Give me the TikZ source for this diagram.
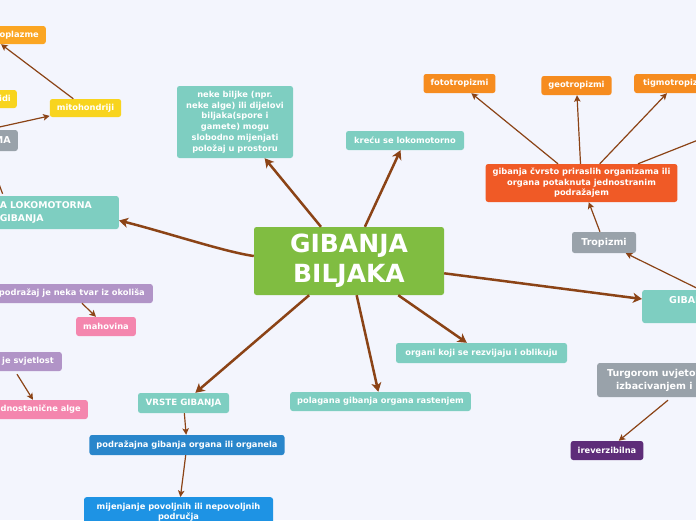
\documentclass[tikz,border=0pt]{standalone}
\usepackage{fontspec}
\setmainfont{DejaVu Sans}
\usetikzlibrary{arrows.meta,calc}
\definecolor{bgc}{HTML}{F3F5FD}
\definecolor{brn}{HTML}{8B4316}
\definecolor{tealc}{HTML}{7ECEC1}
\definecolor{greenc}{HTML}{80BD41}
\definecolor{orgA}{HTML}{FBA623}
\definecolor{orgB}{HTML}{F68C1F}
\definecolor{yelc}{HTML}{F8D41E}
\definecolor{gryc}{HTML}{99A2AA}
\definecolor{redc}{HTML}{F05A26}
\definecolor{blueA}{HTML}{2986CB}
\definecolor{blueB}{HTML}{1E93E4}
\definecolor{purc}{HTML}{B194C7}
\definecolor{pinkc}{HTML}{F486AE}
\definecolor{dpurc}{HTML}{5E2D79}
\tikzset{
  mm/.style={rounded corners=2.5pt, text=white, font=\bfseries\fontsize{8.3}{10.5}\selectfont,
    align=center, inner xsep=7pt, inner ysep=0pt, minimum height=19pt},
  bigf/.style={font=\bfseries\fontsize{9.5}{12}\selectfont},
  thickc/.style={draw=brn, line width=2.5pt, -{Stealth[length=9pt,width=10pt,inset=2.5pt]}},
  thinc/.style={draw=brn, line width=1.2pt, -{Stealth[length=6.5pt,width=6.5pt,inset=1.5pt]}},
  plainc/.style={draw=brn, line width=1.2pt},
}
\begin{document}
\begin{tikzpicture}[x=1pt,y=-1pt]
\useasboundingbox (0,0) rectangle (696,520);
\fill[bgc] (0,0) rectangle (696,520);
\begin{scope}
\clip (0,0) rectangle (696,520);
% nodes
\node[mm, fill=orgA, anchor=east, minimum height=18pt] (cito) at (46,35) {citoplazme};
\node[mm, fill=yelc, anchor=east, inner xsep=6pt, minimum height=18pt] (plast) at (17,99) {plastidi};
\node[mm, fill=yelc, minimum width=69pt, minimum height=18pt] (mito) at (85.5,108) {mitohondriji};
\node[mm, fill=gryc, anchor=east, bigf, minimum height=21pt] (ma) at (18,140.5) {MA};
\node[mm, fill=tealc, anchor=east, text width=111pt, align=left, inner xsep=8pt,
  font=\bfseries\fontsize{9.3}{13}\selectfont, minimum height=33pt] (lok) at (119,212.5) {A LOKOMOTORNA\\GIBANJA};
\node[mm, fill=greenc, minimum width=190pt, minimum height=68pt,
  font=\bfseries\fontsize{25}{30}\selectfont] (main) at (349,261) {GIBANJA\\BILJAKA};
\node[mm, fill=tealc, minimum width=116pt, minimum height=72pt,
  font=\bfseries\fontsize{8.3}{10.8}\selectfont] (neke) at (235,122)
  {neke biljke (npr.\\neke alge) ili dijelovi\\biljaka(spore i\\gamete) mogu\\slobodno mijenjati\\položaj u prostoru};
\node[mm, fill=tealc, minimum width=118pt] (kre) at (405,140.5) {kreću se lokomotorno};
\node[mm, fill=orgB, minimum width=69pt] (foto) at (459.5,83.5) {fototropizmi};
\node[mm, fill=orgB, minimum width=69pt] (geo) at (576.5,85.5) {geotropizmi};
\node[mm, fill=orgB, anchor=west, inner xsep=9pt] (tigmo) at (634,83.5) {tigmotropizmi};
\node[mm, fill=redc, minimum width=189pt, minimum height=38pt] (red) at (581.5,183)
  {gibanja čvrsto priraslih organizama ili\\organa potaknuta jednostranim\\podražajem};
\node[mm, fill=gryc, minimum width=64pt, minimum height=21pt, bigf] (trop) at (604,242.5) {Tropizmi};
\node[mm, fill=tealc, anchor=west, minimum width=116pt, minimum height=33pt] (giba) at (642,306.5) {};
\node[text=white, bigf, anchor=west, inner sep=0pt] (gibat) at (669,301) {GIBANJA};
\node[mm, fill=tealc, minimum width=171pt, minimum height=20pt] (organi) at (481.5,353) {organi koji se rezvijaju i oblikuju};
\node[mm, fill=tealc, minimum width=175pt] (pol) at (380.5,401.5) {polagana gibanja organa rastenjem};
\node[mm, fill=tealc, minimum width=91pt, minimum height=20pt,
  font=\bfseries\fontsize{8.7}{10.5}\selectfont] (vrste) at (183.5,403) {VRSTE GIBANJA};
\node[mm, fill=blueA, minimum width=188pt, minimum height=20pt] (podr) at (187,445) {podražajna gibanja organa ili organela};
\node[mm, fill=blueB, minimum width=189pt, minimum height=30pt, anchor=north] (mij) at (178.5,497)
  {mijenjanje povoljnih ili nepovoljnih\\područja};
\node[mm, fill=purc, anchor=east, inner xsep=8pt] (tvar) at (153,293.5) {podražaj je neka tvar iz okoliša};
\node[mm, fill=pinkc, minimum width=58pt] (mah) at (106,326.5) {mahovina};
\node[mm, fill=purc, anchor=east, inner xsep=8pt] (svj) at (62,361.5) {podražaj je svjetlost};
\node[mm, fill=pinkc, anchor=east] (alge) at (88,409.5) {jednostanične alge};
\node[mm, fill=gryc, anchor=west, minimum width=160pt, minimum height=34pt] (turg) at (597,380) {};
\node[text=white, bigf, anchor=west, inner sep=0pt] (turg1) at (607,374) {Turgorom uvjetovana};
\node[text=white, bigf, anchor=west, inner sep=0pt] (turg2) at (616,386.5) {izbacivanjem i};
\node[mm, fill=dpurc, minimum width=70pt] (irev) at (607,450.5) {ireverzibilna};
\coordinate (offr) at (750,119.5);
% connectors
\draw[thinc] (mito) -- ([xshift=-45pt]cito.south east);
\draw[thinc] (ma.north west) -- (mito);
\draw[plainc] ([xshift=11pt,yshift=2pt]lok.north west) -- (ma.south west);
\draw[thickc] ([yshift=5pt]main.west) .. controls (225,252) and (165,232) .. ([yshift=-8pt]lok.east);
\draw[thickc] (main) -- (neke);
\draw[thickc] (main) -- (kre);
\draw[thickc] (main) -- (giba);
\draw[thickc] (main) -- (organi);
\draw[thickc] (main) -- (pol);
\draw[thickc] (main) -- (vrste);
\draw[thinc] (red) -- (foto);
\draw[thinc] (red) -- (geo);
\draw[thinc] (red) -- (tigmo);
\draw[thinc] ([xshift=56.5pt]red.north) -- (offr);
\draw[thinc] (trop) -- (red);
\draw[thinc] (giba.north) -- (trop);
\draw[thinc] (vrste) -- (podr);
\draw[thinc] (podr) -- (mij);
\draw[thinc] (tvar) -- (mah);
\draw[thinc] ([xshift=-45pt,yshift=-3pt]svj.south east) -- ([xshift=-55pt]alge.north east);
\draw[thinc] ([xshift=71pt,yshift=-3pt]turg.south west) -- (irev);
\end{scope}
\end{tikzpicture}
\end{document}
